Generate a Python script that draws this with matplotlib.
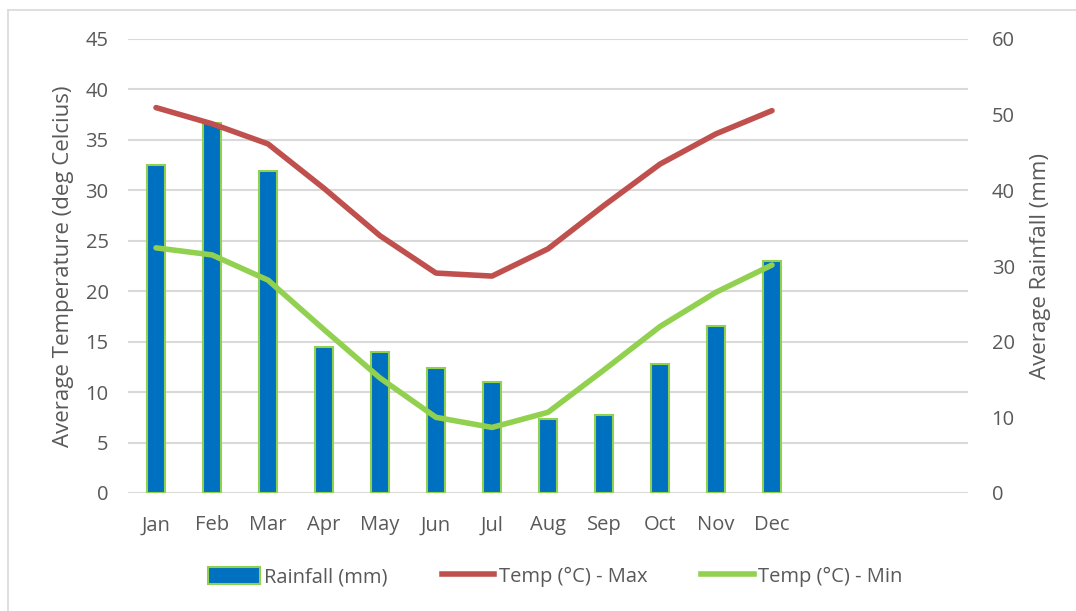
import matplotlib
matplotlib.use("Agg")
import matplotlib.pyplot as plt
from matplotlib.lines import Line2D
from matplotlib.patches import Patch

plt.rcParams['font.family'] = ['Open Sans', 'DejaVu Sans']

months = ["Jan", "Feb", "Mar", "Apr", "May", "Jun", "Jul", "Aug", "Sep", "Oct", "Nov", "Dec"]
rainfall_mm = [43.3, 48.9, 42.5, 19.3, 18.6, 16.5, 14.7, 9.8, 10.3, 17.1, 22.1, 30.7]
temp_max = [38.2, 36.6, 34.6, 30.2, 25.5, 21.8, 21.5, 24.2, 28.5, 32.6, 35.6, 37.9]
temp_min = [24.3, 23.6, 21.1, 16.2, 11.4, 7.5, 6.5, 8.0, 12.2, 16.5, 19.9, 22.6]
n_slots = 15  # category axis includes 3 empty slots after Dec

TEXT = "#595959"
GRID = "#d9d9d9"
BLUE = "#0070c0"
RED = "#c0504d"
GREEN = "#92d050"

W, H = 1076, 611
fig = plt.figure(figsize=(W / 100, H / 100), dpi=100)
ax = fig.add_axes([128 / W, 1 - 493 / H, 840 / W, 454 / H])
ax2 = ax.twinx()

x = list(range(len(months)))

# Rainfall bars on secondary axis (drawn behind lines)
ax2.bar(x, rainfall_mm, width=0.32, color=BLUE, edgecolor=GREEN, linewidth=1.5, zorder=1)
ax2.set_ylim(0, 60)
ax2.set_yticks(range(0, 61, 10))

ax.set_ylim(0, 45)
ax.set_yticks(range(0, 46, 5))
ax.set_xlim(-0.5, n_slots - 0.5)
ax.set_xticks(x)
ax.set_xticklabels(months)

# put primary axis (lines) on top
ax.set_zorder(ax2.get_zorder() + 1)
ax.patch.set_visible(False)

ax.plot(x, temp_max, color=RED, linewidth=4, solid_capstyle='round', solid_joinstyle='round', zorder=3)
ax.plot(x, temp_min, color=GREEN, linewidth=4, solid_capstyle='round', solid_joinstyle='round', zorder=3)

# horizontal gridlines at the primary ticks (behind bars)
for v in range(0, 46, 5):
    ax2.axhline(v * 60 / 45, color=GRID, linewidth=1.5, zorder=0)

for a in (ax, ax2):
    for s in a.spines.values():
        s.set_visible(False)
    a.tick_params(length=0, labelsize=14.5, colors=TEXT)

ax.tick_params(axis='y', pad=14)
ax.tick_params(axis='x', pad=16)
ax2.tick_params(axis='y', pad=17)

ax.set_ylabel("Average Temperature (deg Celcius)", fontsize=16, color=TEXT, labelpad=8)
ax2.set_ylabel("Average Rainfall (mm)", fontsize=16, color=TEXT, labelpad=11)

handles = [
    Patch(facecolor=BLUE, edgecolor=GREEN, linewidth=1.5, label="Rainfall (mm)"),
    Line2D([0], [0], color=RED, linewidth=4, label="Temp (°C) - Max"),
    Line2D([0], [0], color=GREEN, linewidth=4, label="Temp (°C) - Min"),
]
leg = fig.legend(handles=handles, loc='center', bbox_to_anchor=(555 / W, 1 - 577 / H), ncol=3,
                 frameon=False, fontsize=14.5, handlelength=2.6, handletextpad=0.2, columnspacing=2.7,
                 handleheight=0.9)
for t in leg.get_texts():
    t.set_color(TEXT)

# chart area border (left and top edges visible)
fig.add_artist(Line2D([8 / W, 8 / W], [0, 1 - 10 / H], transform=fig.transFigure, color=GRID, linewidth=1.2))
fig.add_artist(Line2D([8 / W, 1], [1 - 10 / H, 1 - 10 / H], transform=fig.transFigure, color=GRID, linewidth=1.2))

fig.savefig("out.png", dpi=100, facecolor="white")
